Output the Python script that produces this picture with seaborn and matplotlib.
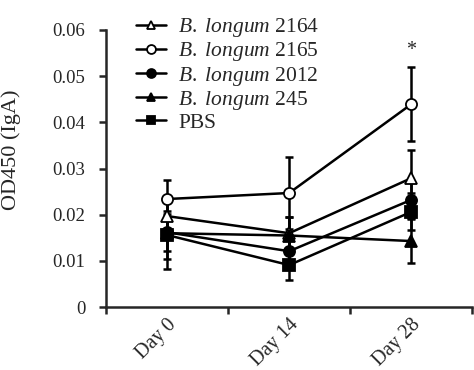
import numpy as np
import matplotlib
matplotlib.use("Agg")
import matplotlib.pyplot as plt
from matplotlib import font_manager
import pandas as pd
import seaborn as sns

days = ["Day 0", "Day 14", "Day 28"]
strains = ["2164", "2165", "2012", "245", "PBS"]

od_2164 = [0.0197, 0.0160, 0.0279]
od_2165 = [0.0234, 0.0247, 0.0439]
od_2012 = [0.0162, 0.0121, 0.0232]
od_245 = [0.0160, 0.0155, 0.0143]
od_pbs = [0.0156, 0.0091, 0.0206]

err_2164 = [0.0040, 0.0035, 0.0061]
err_2165 = [0.0041, 0.0078, 0.0080]
err_2012 = [0.0040, 0.0030, 0.0040]
err_245 = [0.0078, 0.0040, 0.0048]
err_pbs = [0.0052, 0.0033, 0.0040]

sns.set_style("ticks")
plt.rcParams["font.family"] = ["Liberation Serif", "DejaVu Serif"]
plt.rcParams["font.serif"] = ["Liberation Serif", "DejaVu Serif"]
plt.rcParams["mathtext.fontset"] = "custom"
plt.rcParams["mathtext.it"] = "Liberation Serif:italic"
plt.rcParams["mathtext.rm"] = "Liberation Serif"

FS = 13.5

values = [od_2164, od_2165, od_2012, od_245, od_pbs]
errors = [err_2164, err_2165, err_2012, err_245, err_pbs]
labels = [r"$\mathit{B.\ longum}$ 2164", r"$\mathit{B.\ longum}$ 2165",
          r"$\mathit{B.\ longum}$ 2012", r"$\mathit{B.\ longum}$ 245", "PBS"]
markers = ["^", "o", "o", "^", "s"]
faces = ["white", "white", "black", "black", "black"]

rows = []
for s, v, e in zip(strains, values, errors):
    for i, d in enumerate(days):
        rows.append({"strain": s, "pos": i, "day": d, "od": v[i], "err": e[i]})
df = pd.DataFrame(rows)

fig = plt.figure(figsize=(4.74, 3.70), dpi=100)
ax = fig.add_axes([0.224, 0.170, 0.772, 0.749])

for s, lab, m, fc in zip(strains, labels, markers, faces):
    sub = df[df["strain"] == s]
    ax.errorbar(sub["pos"], sub["od"], yerr=sub["err"], fmt="none",
                ecolor="black", elinewidth=1.8, capsize=3, capthick=1.8, zorder=2)
    sns.lineplot(data=sub, x="pos", y="od", ax=ax, color="black", lw=1.8,
                 marker=m, markersize=8, markerfacecolor=fc,
                 markeredgecolor="black", markeredgewidth=1.3,
                 label=lab, zorder=3)

ax.text(2, 0.0555, "*", ha="center", va="center", fontsize=FS + 1,
        family="Liberation Serif")

ax.set_xlim(-0.5, 2.5)
ax.set_ylim(0, 0.06)
ax.set_yticks(np.arange(0, 0.061, 0.01))
ax.set_yticklabels(["0", "0.01", "0.02", "0.03", "0.04", "0.05", "0.06"],
                   family="Liberation Serif", fontsize=FS)
ax.set_xticks([-0.5, 0.5, 1.5, 2.5])
ax.set_xticklabels([])
ax.set_xticks([0, 1, 2], minor=True)
ax.set_xticklabels(days, minor=True, rotation=45, ha="right", va="top",
                   rotation_mode="anchor", family="Liberation Serif", fontsize=14.5)
ax.tick_params(axis="x", which="minor", length=0, pad=6)
ax.tick_params(axis="both", which="major", direction="out", length=5, width=1.8)
ax.tick_params(axis="y", which="major", pad=10)
ax.set_xlabel("")
ax.set_ylabel("OD450 (IgA)", fontsize=16, family="Liberation Serif")
ax.yaxis.set_label_coords(-0.234, 0.567)

sns.despine(ax=ax)
for sp in ["left", "bottom"]:
    ax.spines[sp].set_linewidth(1.8)

leg = ax.legend(loc="upper left", bbox_to_anchor=(0.058, 1.08), frameon=False,
                prop=font_manager.FontProperties(family="Liberation Serif", size=15.5),
                handlelength=1.4, handletextpad=0.55, markerscale=0.8,
                labelspacing=0.05, borderaxespad=0)

fig.savefig("out.png", dpi=100)
